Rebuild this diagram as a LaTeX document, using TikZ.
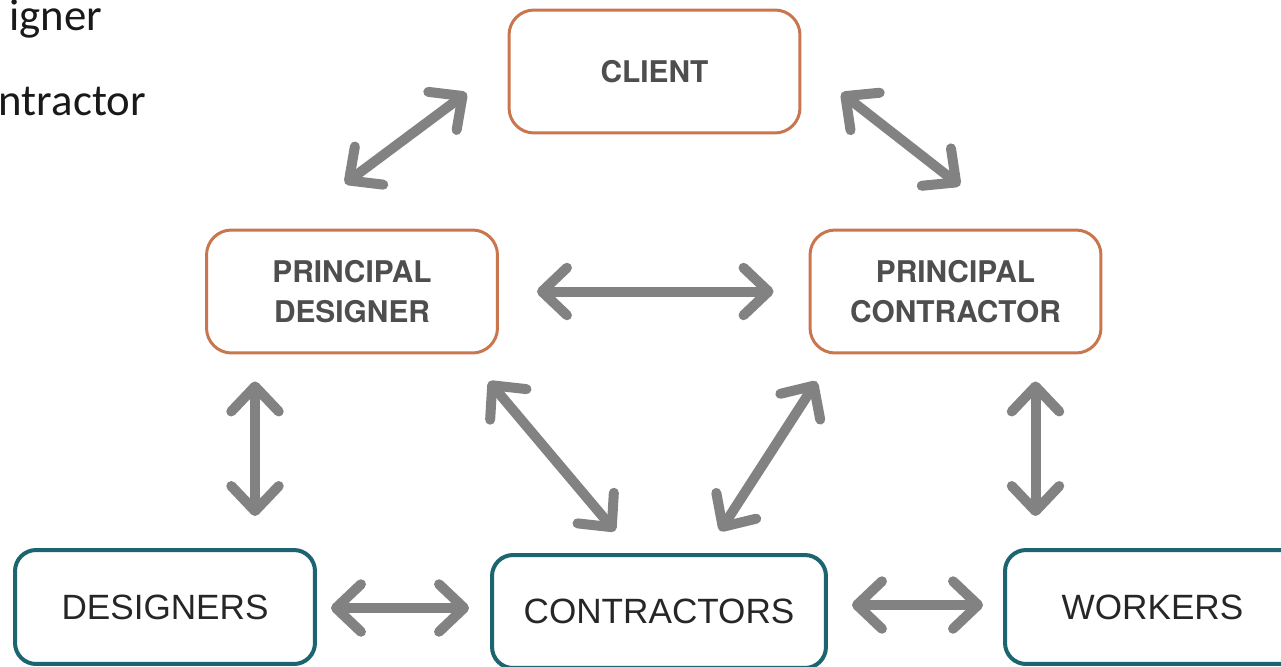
\documentclass[tikz,border=0pt]{standalone}
\usepackage{fontspec}
\usetikzlibrary{arrows.meta}
\newfontfamily\labelfont{TeX Gyre Heros}
\newfontfamily\rolefont{Liberation Sans}
\newfontfamily\notefont{Carlito}
\definecolor{dutyorange}{RGB}{201,118,78}
\definecolor{teamteal}{RGB}{28,100,112}
\definecolor{linkgray}{RGB}{130,130,130}
\definecolor{labelgray}{RGB}{78,78,78}
\begin{document}
\begin{tikzpicture}[x=0.02cm,y=-0.02cm,
  dutybox/.style={draw=dutyorange, line width=0.06cm, rounded corners=0.5cm,
    minimum width=5.82cm, minimum height=2.46cm, align=center, inner sep=0pt,
    font=\labelfont\bfseries\fontsize{17}{22.8}\selectfont, text=labelgray},
  teambox/.style={draw=teamteal, line width=0.08cm, rounded corners=0.42cm,
    minimum height=2.28cm, inner sep=0pt,
    font=\rolefont\fontsize{20}{24}\selectfont, text=black!85},
  link/.style={draw=linkgray, line width=0.2cm, line cap=round,
    {Straight Barb[length=0.5cm,width=0.95cm,round]}-{Straight Barb[length=0.5cm,width=0.95cm,round]}},
  note/.style={anchor=base west, inner sep=0pt, font=\notefont\fontsize{25.5}{30}\selectfont, text=black!90},
]
\clip (0,0) rectangle (1281,666);

% fragments of the slide text on the left
\node[note] (notedesigner) at (9,31) {igner};
\node[note] (notecontractor) at (-1.5,115) {ntractor};

% duty holders
\node[dutybox] (cl) at (654.5,71.5) {CLIENT};
\node[dutybox] (pd) at (352,291.5) {PRINCIPAL\\DESIGNER};
\node[dutybox] (pc) at (955.5,291.5) {PRINCIPAL\\CONTRACTOR};

% working parties
\node[teambox, minimum width=6cm] (de) at (165,607) {DESIGNERS};
\node[teambox, minimum width=6.68cm, minimum height=2.26cm] (co) at (659,611.5) {CONTRACTORS};
\node[teambox, minimum width=5.9cm] (wo) at (1152.5,607) {WORKERS};

% two-way links
\draw[link] ([shift={(-7,-45)}]pd.north) -- ([shift={(-41,21.5)}]cl.west);
\draw[link] ([shift={(40,21.5)}]cl.east) -- ([shift={(4.5,-43)}]pc.north);
\draw[link] ([shift={(38,0)}]pd.east) -- ([shift={(-35,0)}]pc.west);
\draw[link] ([shift={(-97,27)}]pd.south) -- ([shift={(90,-32)}]de.north);
\draw[link] ([shift={(-10,27)}]pd.south east) -- ([shift={(-44,-22)}]co.north);
\draw[link] ([shift={(61,-22)}]co.north) -- ([shift={(8,27)}]pc.south west);
\draw[link] ([shift={(80,27)}]pc.south) -- ([shift={(-117,-32)}]wo.north);
\draw[link] ([shift={(14,1)}]de.east) -- ([shift={(-21,-3.5)}]co.west);
\draw[link] ([shift={(24,-6.5)}]co.east) -- ([shift={(-20,-2)}]wo.west);
\end{tikzpicture}
\end{document}
